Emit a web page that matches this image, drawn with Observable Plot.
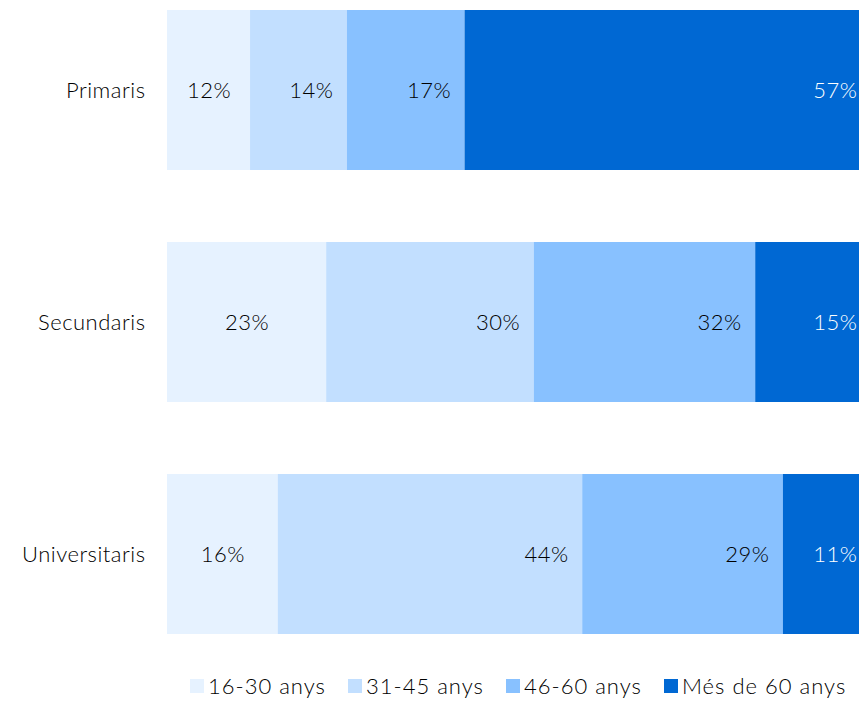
<!DOCTYPE html>
<html>
<head>
<meta charset="utf-8">
<script src="https://cdn.jsdelivr.net/npm/d3@7"></script>
<script src="https://cdn.jsdelivr.net/npm/@observablehq/plot@0.6"></script>
<style>
  body { margin: 0; background: #fff; font-family: Lato, "Noto Sans", sans-serif; }
  #legend { display: flex; margin-left: 190px; margin-top: 22px; font-size: 22px; font-weight: 300; letter-spacing: 1px; color: #000; align-items: center; }
  #legend .item { display: flex; align-items: center; gap: 4px; width: 158px; flex: 0 0 158px; white-space: nowrap; }
  #legend .item:last-child { width: auto; flex: 0 0 auto; }
  #legend .sw { width: 14px; height: 14px; display: inline-block; flex: 0 0 14px; }
</style>
</head>
<body>
<div id="chart"></div>
<div id="legend"></div>
<script>
const categories = ["Primaris", "Secundaris", "Universitaris"];
const series = ["16-30 anys", "31-45 anys", "46-60 anys", "Més de 60 anys"];
const colors = ["#E6F2FF", "#C2DFFF", "#88C1FF", "#0068D3"];
const values = {
  "16-30 anys": [12, 23, 16],
  "31-45 anys": [14, 30, 44],
  "46-60 anys": [17, 32, 29],
  "Més de 60 anys": [57, 15, 11]
};

const rows = [];
categories.forEach((c, i) => {
  let acc = 0;
  series.forEach((s, j) => {
    const v = values[s][i];
    rows.push({category: c, series: s, si: j, value: v, x1: acc, x2: acc + v});
    acc += v;
  });
});

const txt = (filterFn, opts) => Plot.text(rows.filter(filterFn), {
  y: "category", text: d => d.value + "%", fontSize: 22, fontWeight: 300, ...opts
});

const chart = Plot.plot({
  width: 859,
  height: 650,
  marginLeft: 167,
  marginRight: 0,
  marginTop: 10,
  marginBottom: 16,
  style: {fontFamily: "Lato, 'Noto Sans', sans-serif", fontSize: "22px", fontWeight: 300, letterSpacing: "0.5px", color: "#000", background: "#fff"},
  x: {domain: [0, 100], axis: null},
  y: {domain: categories, paddingInner: 72 / 232, paddingOuter: 0, label: null, tickSize: 0, tickPadding: 22},
  color: {domain: series, range: colors},
  marks: [
    Plot.barX(rows, {y: "category", x1: "x1", x2: "x2", fill: "series"}),
    txt(d => d.si === 0, {x: d => (d.x1 + d.x2) / 2, fill: "#000"}),
    txt(d => d.si === 1 || d.si === 2, {x: "x2", textAnchor: "end", dx: -14, fill: "#000"}),
    txt(d => d.si === 3, {x: "x2", textAnchor: "end", dx: -2, fill: "#ffffff"})
  ]
});
document.getElementById("chart").appendChild(chart);

const legend = document.getElementById("legend");
const cs = chart.scale("color");
series.forEach((s, i) => {
  const item = document.createElement("div");
  item.className = "item";
  const sw = document.createElement("span");
  sw.className = "sw";
  sw.style.background = cs.range[i];
  const lab = document.createElement("span");
  lab.textContent = s;
  item.appendChild(sw);
  item.appendChild(lab);
  legend.appendChild(item);
});
</script>
</body>
</html>
